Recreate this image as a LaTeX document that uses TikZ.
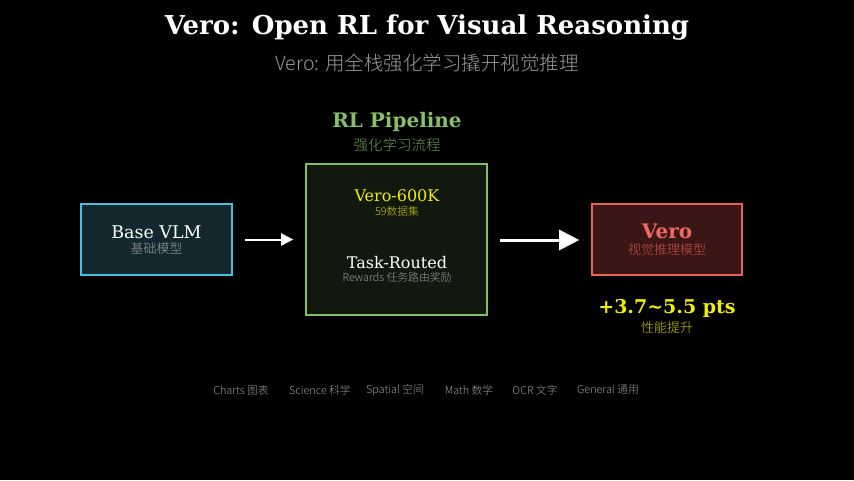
\documentclass[tikz,border=0pt]{standalone}
\usepackage{fontspec}
\setmainfont{DejaVu Serif}
\newfontfamily\cjk{Noto Sans CJK SC}
\newfontfamily\cjkl{Noto Sans CJK SC Light}
\usetikzlibrary{arrows.meta,calc}
\definecolor{bgc}{HTML}{000000}
\definecolor{tealf}{HTML}{13282E}
\definecolor{tealb}{HTML}{4CC0DA}
\definecolor{greenf}{HTML}{11190F}
\definecolor{greenb}{HTML}{80C060}
\definecolor{greent}{HTML}{88C06A}
\definecolor{greens}{HTML}{6A9A55}
\definecolor{redf}{HTML}{3A1616}
\definecolor{redb}{HTML}{E8625A}
\definecolor{redt}{HTML}{F06A60}
\definecolor{redsub}{HTML}{C8504A}
\definecolor{yel}{HTML}{F0F000}
\definecolor{yelsub}{HTML}{C8C800}
\definecolor{graysub}{HTML}{9A9A9A}
\begin{document}
\begin{tikzpicture}[x=1pt,y=-1pt,
  box/.style={draw,line width=1.6pt,inner sep=0pt},
  lbl/.style={inner sep=0pt,anchor=center},
  arr/.style={draw=white,line width=2pt,-{Triangle[length=12pt,width=12pt]}},
  cat/.style={lbl,text=graysub,font=\cjkl\fontsize{10.8}{12}\selectfont}]
\fill[bgc] (0,0) rectangle (854,480);
\useasboundingbox (0,0) rectangle (854,480);
\node[lbl,text=white,font=\bfseries\fontsize{26}{30}\selectfont] (title) at (427,28) {Vero: Open RL for Visual Reasoning};
\node[lbl,text=graysub,font=\cjkl\fontsize{19.5}{23}\selectfont] (sub) at (427,63) {Vero: 用全栈强化学习撬开视觉推理};
% boxes
\node[box,draw=tealb,fill=tealf,minimum width=151pt,minimum height=71pt] (base) at (156.5,239.5) {};
\node[lbl,text=white,font=\fontsize{17.5}{20}\selectfont] (baset) at (156.5,232) {Base VLM};
\node[lbl,text=graysub,font=\cjkl\fontsize{13}{15}\selectfont] (bases) at (156.5,249) {基础模型};
\node[box,draw=greenb,fill=greenf,minimum width=181pt,minimum height=151pt] (pipe) at (396.5,239.5) {};
\node[lbl,text=greent,font=\bfseries\fontsize{20}{23}\selectfont] (pipet) at (397,122) {RL Pipeline};
\node[lbl,text=greens,font=\cjkl\fontsize{14.5}{17}\selectfont] (pipes) at (397,145) {强化学习流程};
\node[lbl,text=yel,font=\fontsize{16}{18}\selectfont] (vd) at (397,196) {Vero-600K};
\node[lbl,text=yelsub,font=\cjkl\fontsize{10.8}{12}\selectfont] (vds) at (397,211) {59数据集};
\node[lbl,text=white,font=\fontsize{16}{18}\selectfont] (tr) at (397,263) {Task-Routed};
\node[lbl,text=graysub,font=\cjkl\fontsize{10.8}{12}\selectfont] (trs) at (397,277) {Rewards 任务路由奖励};
\node[box,draw=redb,fill=redf,minimum width=150pt,minimum height=71pt] (vero) at (667,239.5) {};
\node[lbl,text=redt,font=\bfseries\fontsize{20}{23}\selectfont] (verot) at (667,231) {Vero};
\node[lbl,text=redsub,font=\cjkl\fontsize{13}{15}\selectfont] (veros) at (667,250) {视觉推理模型};
\node[lbl,text=yel,font=\bfseries\fontsize{19}{22}\selectfont] (gain) at (667,308) {+3.7\char`\~5.5 pts};
\node[lbl,text=yelsub,font=\cjkl\fontsize{13}{15}\selectfont] (gains) at (667,328) {性能提升};
% arrows
\coordinate (a1s) at ($(base.east)+(12pt,0)$);
\coordinate (a1e) at ($(pipe.west)+(-12pt,0)$);
\draw[arr] (a1s) -- (a1e);
\coordinate (a2s) at ($(pipe.east)+(12pt,-0.5pt)$);
\coordinate (a2e) at ($(vero.west)+(-12pt,-0.5pt)$);
\draw[draw=white,line width=3pt,-{Triangle[length=20pt,width=20pt]}] (a2s) -- (a2e);
% categories
\node[cat] (c1) at (241,390) {Charts 图表};
\node[cat] (c2) at (320,390) {Science 科学};
\node[cat] (c3) at (395,390) {Spatial 空间};
\node[cat] (c4) at (469,390) {Math 数学};
\node[cat] (c5) at (535,390) {OCR 文字};
\node[cat] (c6) at (608,390) {General 通用};
\end{tikzpicture}
\end{document}
